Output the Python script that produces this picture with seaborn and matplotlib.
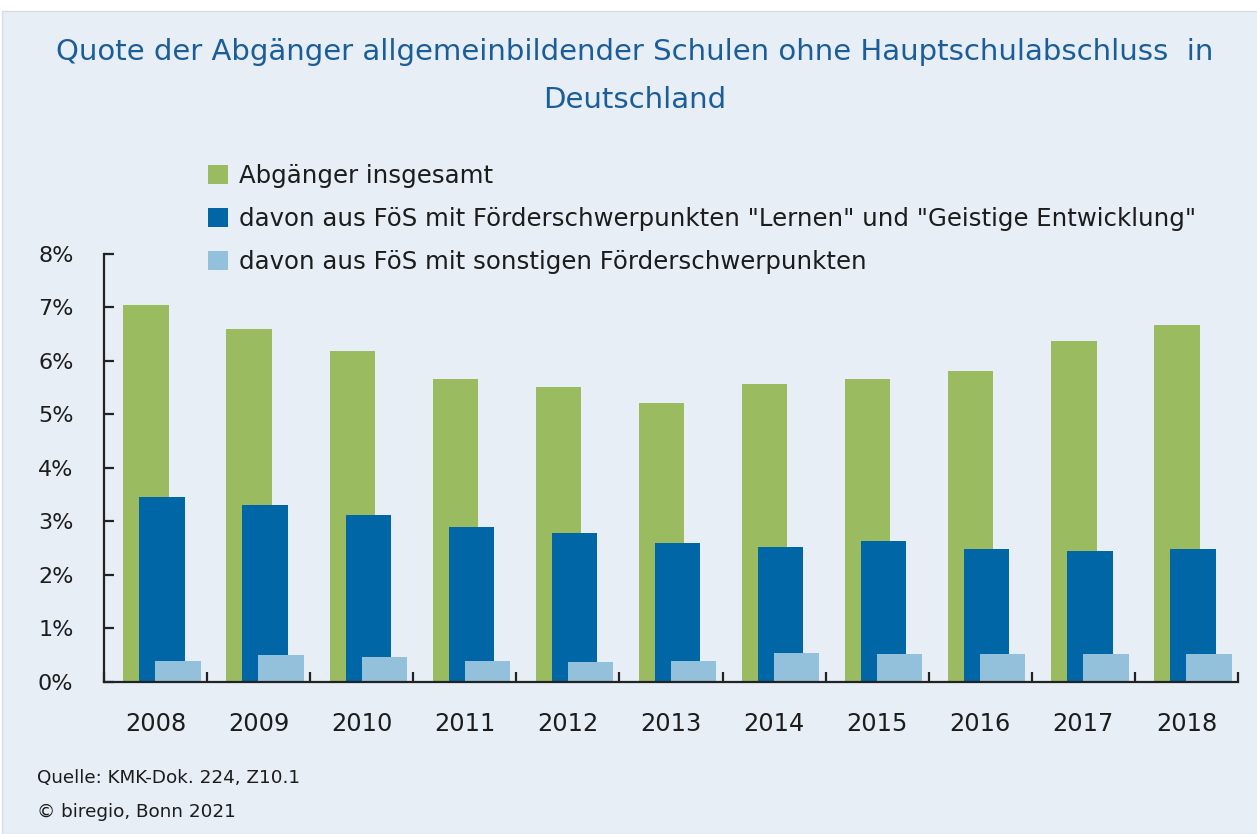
import numpy as np
import pandas as pd
import matplotlib
matplotlib.use("Agg")
import matplotlib.pyplot as plt
import seaborn as sns
from matplotlib.patches import Rectangle
from matplotlib.ticker import FuncFormatter

# ---- data (values in percent) ----
years = [2008, 2009, 2010, 2011, 2012, 2013, 2014, 2015, 2016, 2017, 2018]
insgesamt = [7.05, 6.60, 6.19, 5.67, 5.52, 5.22, 5.56, 5.67, 5.82, 6.38, 6.68]
lernen_ge = [3.46, 3.31, 3.12, 2.90, 2.78, 2.60, 2.52, 2.64, 2.49, 2.45, 2.49]
sonstige = [0.39, 0.50, 0.47, 0.39, 0.36, 0.39, 0.54, 0.51, 0.51, 0.51, 0.51]
series_labels = [
    "Abgänger insgesamt",
    'davon aus FöS mit Förderschwerpunkten "Lernen" und "Geistige Entwicklung"',
    "davon aus FöS mit sonstigen Förderschwerpunkten",
]
y_ticks = [0, 1, 2, 3, 4, 5, 6, 7, 8]

title_line1 = "Quote der Abgänger allgemeinbildender Schulen ohne Hauptschulabschluss  in"
title_line2 = "Deutschland"
source = "Quelle: KMK-Dok. 224, Z10.1"
copyright_txt = "© biregio, Bonn 2021"

# ---- style ----
BG = "#e7eef6"
GREEN = "#9bbb60"
DARK = "#0066a5"
LIGHT = "#93c0da"
TITLE_C = "#1b5d99"
TXT = "#1c1c1c"

sns.set_style("white")
plt.rcParams["font.family"] = ["DejaVu Sans"]

W, H = 1257, 834
fig = plt.figure(figsize=(W / 100, H / 100), dpi=100, facecolor="white")
fig.patches.append(Rectangle((2 / W, 0), 1, 1 - 11 / H, transform=fig.transFigure,
                             facecolor=BG, edgecolor="#d8dde3", linewidth=1, zorder=-10))

ax = fig.add_axes([104 / W, 1 - 681.7 / H, (1238 - 104) / W, (681.7 - 254) / H])
ax.set_facecolor("none")

offsets = [-0.092, 0.063, 0.218]
colors = [GREEN, DARK, LIGHT]
for vals, off, col, lab in zip([insgesamt, lernen_ge, sonstige], offsets, colors, series_labels):
    xs = np.array(years, dtype=float) + off
    sns.barplot(x=xs, y=vals, native_scale=True, width=0.44, color=col,
                saturation=1, linewidth=0, label=lab, ax=ax, errorbar=None)

handles, labels = ax.get_legend_handles_labels()
if ax.get_legend() is not None:
    ax.get_legend().remove()

ax.set_xlim(years[0] - 0.5, years[-1] + 0.5)
ax.set_ylim(0, 8)
ax.set_yticks(y_ticks)
ax.yaxis.set_major_formatter(FuncFormatter(lambda v, p: f"{v:.0f}%"))
ax.set_xticks(years)
ax.set_xticklabels([str(y) for y in years])
ax.set_xticks([y + 0.5 for y in [years[0] - 1] + years], minor=True)
ax.tick_params(axis="x", which="major", bottom=True, length=0, pad=22, labelsize=17.3,
               labelcolor=TXT)
ax.tick_params(axis="x", which="minor", bottom=True, direction="in", length=7, width=1.6,
               color="#222222")
ax.tick_params(axis="y", which="major", left=True, direction="in", length=7, width=1.6,
               color="#222222", pad=22, labelsize=16, labelcolor=TXT)
for s in ["top", "right"]:
    ax.spines[s].set_visible(False)
for s in ["left", "bottom"]:
    ax.spines[s].set_color("#222222")
    ax.spines[s].set_linewidth(1.6)
ax.set_xlabel("")
ax.set_ylabel("")
ax.grid(False)

fig.legend(handles, labels, loc="upper left", bbox_to_anchor=(208 / W, 1 - 164 / H),
           frameon=False, fontsize=17.6, handlelength=0.82, handleheight=0.82,
           handletextpad=0.45, labelspacing=0.77, borderpad=0, borderaxespad=0,
           labelcolor=TXT)

fig.text(635 / W, 1 - 52 / H, title_line1, ha="center", va="center", fontsize=21, color=TITLE_C)
fig.text(635 / W, 1 - 100 / H, title_line2, ha="center", va="center", fontsize=21, color=TITLE_C)
fig.text(37 / W, 1 - 778 / H, source, ha="left", va="center", fontsize=13.2, color=TXT)
fig.text(37 / W, 1 - 812 / H, copyright_txt, ha="left", va="center", fontsize=13.2, color=TXT)

fig.savefig("out.png", dpi=100, facecolor=fig.get_facecolor())
